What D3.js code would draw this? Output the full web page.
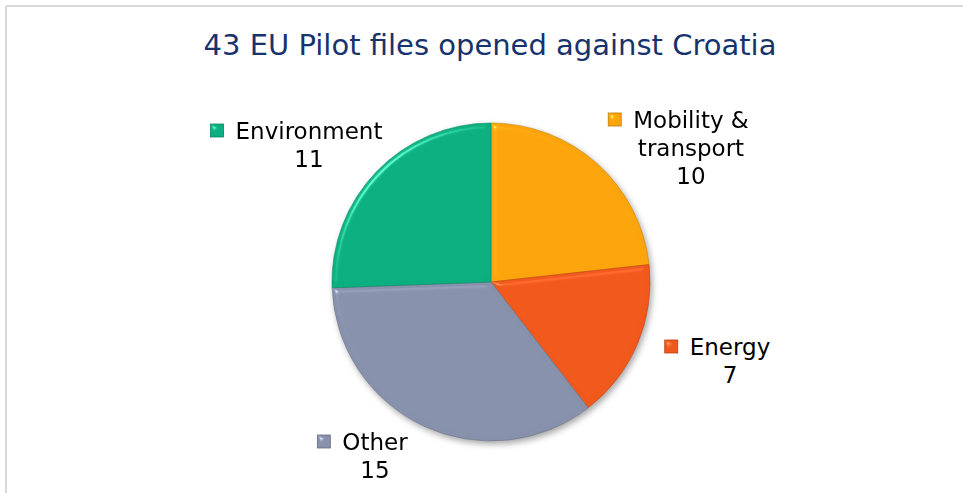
<!DOCTYPE html>
<html>
<head>
<meta charset="utf-8">
<script src="https://cdn.jsdelivr.net/npm/d3@7"></script>
<style>
  html, body { margin: 0; padding: 0; background: #fff; }
  svg { display: block; }
  text { font-family: "DejaVu Sans", Verdana, sans-serif; }
</style>
</head>
<body>
<svg id="chart" width="963" height="493"></svg>
<script>
// ---- data ----
const title = "43 EU Pilot files opened against Croatia";
const categories = ["Mobility & transport", "Energy", "Other", "Environment"];
const labelLines = [["Mobility &", "transport"], ["Energy"], ["Other"], ["Environment"]];
const values = [10, 7, 15, 11];
const colors = ["#FCA40C", "#F1581C", "#8891AB", "#0BAF80"];

// ---- layout (label placement, chart geometry) ----
const W = 963, H = 493;
const cx = 491, cy = 282, R = 159;
const labelPos = [
  { x: 691, y: 128 },
  { x: 730, y: 355 },
  { x: 375, y: 450 },
  { x: 309, y: 139 }
];
const lineH = 28;

const svg = d3.select("#chart");
const defs = svg.append("defs");

// bevel-ish filter
const bevel = defs.append("filter").attr("id", "bevel")
  .attr("color-interpolation-filters", "sRGB")
  .attr("x", "-10%").attr("y", "-10%").attr("width", "120%").attr("height", "120%");
bevel.append("feGaussianBlur").attr("in", "SourceAlpha").attr("stdDeviation", 2.5).attr("result", "blur");
const spec = bevel.append("feSpecularLighting").attr("in", "blur").attr("surfaceScale", 4)
  .attr("specularConstant", 0.6).attr("specularExponent", 35).attr("lighting-color", "#ffffff").attr("result", "spec");
spec.append("feDistantLight").attr("azimuth", 225).attr("elevation", 35);
bevel.append("feComposite").attr("in", "spec").attr("in2", "SourceAlpha").attr("operator", "in").attr("result", "specIn");
bevel.append("feComposite").attr("in", "SourceGraphic").attr("in2", "specIn").attr("operator", "arithmetic")
  .attr("k1", 0).attr("k2", 1).attr("k3", 0.6).attr("k4", 0);

const shadow = defs.append("filter").attr("id", "shadow")
  .attr("color-interpolation-filters", "sRGB")
  .attr("x", "-20%").attr("y", "-20%").attr("width", "140%").attr("height", "140%");
shadow.append("feDropShadow").attr("dx", 2).attr("dy", 3).attr("stdDeviation", 3)
  .attr("flood-color", "#000").attr("flood-opacity", 0.35);

// frame
svg.append("line").attr("x1", 6).attr("y1", 6).attr("x2", W).attr("y2", 6)
  .attr("stroke", "#d9d9d9").attr("stroke-width", 2);
svg.append("line").attr("x1", 6).attr("y1", 6).attr("x2", 6).attr("y2", H)
  .attr("stroke", "#d9d9d9").attr("stroke-width", 2);

// title
svg.append("text").attr("x", 490).attr("y", 55).attr("text-anchor", "middle")
  .attr("font-size", 29).attr("fill", "#17336E").text(title);

// pie
const pie = d3.pie().sort(null).value(d => d)(values);
const arc = d3.arc().innerRadius(0).outerRadius(R);

const g = svg.append("g").attr("transform", `translate(${cx},${cy})`).attr("filter", "url(#shadow)");
const slices = g.selectAll("g.slice").data(pie).join("g").attr("class", "slice");
slices.append("path")
  .attr("d", arc)
  .attr("fill", (d, i) => colors[i])
  .attr("filter", "url(#bevel)");
slices.append("path")
  .attr("d", arc)
  .attr("fill", "none")
  .attr("stroke", (d, i) => d3.color(colors[i]).darker(0.6))
  .attr("stroke-width", 1)
  .attr("stroke-opacity", 0.6);

// labels
labelPos.forEach((p, i) => {
  const lg = svg.append("g");
  const lines = labelLines[i].concat([String(values[i])]);
  const texts = lines.map((t, k) =>
    lg.append("text").attr("x", p.x).attr("y", p.y + k * lineH)
      .attr("text-anchor", "middle").attr("font-size", 23).attr("fill", "#000").text(t));
  const w0 = texts[0].node().getComputedTextLength();
  const startX = p.x - w0 / 2;
  lg.append("rect")
    .attr("x", startX - 25).attr("y", p.y - 15).attr("width", 13).attr("height", 13)
    .attr("fill", colors[i]).attr("stroke", d3.color(colors[i]).darker(0.8)).attr("stroke-width", 0.8)
    .attr("filter", "url(#bevel)");
});
</script>
</body>
</html>
